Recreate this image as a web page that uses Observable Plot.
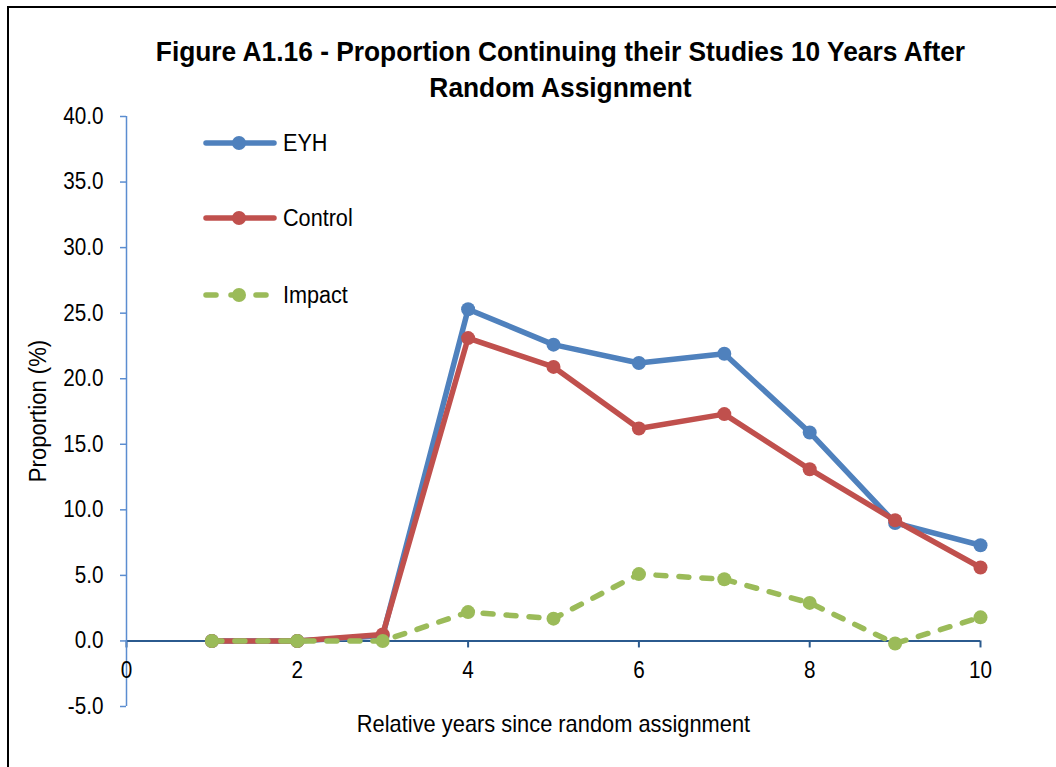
<!DOCTYPE html>
<html>
<head>
<meta charset="utf-8">
<script src="https://cdn.jsdelivr.net/npm/d3@7"></script>
<script src="https://cdn.jsdelivr.net/npm/@observablehq/plot@0.6"></script>
<style>
  html, body { margin: 0; padding: 0; background: #fff; }
  body { width: 1056px; height: 767px; overflow: hidden; }
  #wrap { position: relative; width: 1056px; height: 767px; font-family: "Liberation Sans", Arial, sans-serif; }
  #frame { position: absolute; left: 7px; top: 6px; right: -10px; bottom: -10px; border-left: 2px solid #000; border-top: 2px solid #000; pointer-events: none; }
  #title { height: 104px; box-sizing: border-box; padding-top: 34px; padding-left: 64px; text-align: center; font-weight: bold; font-size: 28px; line-height: 36px; color: #000; }
  #title span { display: inline-block; transform: scaleX(0.94); transform-origin: center; white-space: nowrap; }
  #legend { position: absolute; left: 203px; top: 0; }
  .item { position: absolute; left: 0; display: flex; align-items: center; white-space: nowrap; font-size: 23px; color: #000; }
  .item svg { display: block; margin-right: 6px; }
  .item span { display: inline-block; transform: scaleX(0.94); transform-origin: left center; }
  #ylabel { position: absolute; left: 38px; top: 411px; width: 0; height: 0; }
  #ylabel span { position: absolute; left: 0; top: 0; white-space: nowrap; font-size: 23px; line-height: 23px; color: #000; transform: translate(-50%, -50%) rotate(-90deg) scaleX(0.96); }
</style>
</head>
<body>
<div id="wrap">
  <div id="frame"></div>
  <div id="title"></div>
  <div id="chart"></div>
  <div id="ylabel"><span></span></div>
  <div id="legend"></div>
</div>
<script>
// ---- data ----
const years = [1, 2, 3, 4, 5, 6, 7, 8, 9, 10];
const eyh = [0.0, 0.0, 0.4, 25.3, 22.6, 21.2, 21.9, 15.9, 9.0, 7.3];
const control = [0.0, 0.0, 0.5, 23.1, 20.9, 16.2, 17.3, 13.1, 9.2, 5.6];
const impact = [0.0, 0.0, 0.0, 2.2, 1.7, 5.1, 4.7, 2.9, -0.2, 1.8];
const seriesNames = ["EYH", "Control", "Impact"];
const seriesColors = ["#4F81BD", "#C0504D", "#9BBB59"];
const xTicks = [0, 2, 4, 6, 8, 10];
const yTicks = [-5, 0, 5, 10, 15, 20, 25, 30, 35, 40];
const titleLines = ["Figure A1.16 - Proportion Continuing their Studies 10 Years After", "Random Assignment"];
const xLabel = "Relative years since random assignment";
const yLabel = "Proportion (%)";

document.getElementById("title").innerHTML = titleLines.map(t => `<span>${t}</span>`).join("<br>");
document.querySelector("#ylabel span").textContent = yLabel;

const seriesValues = [eyh, control, impact];
const rows = seriesNames.map((name, s) => years.map((x, i) => ({series: name, x, y: seriesValues[s][i]})));
const dashFor = name => name === "Impact" ? "10,13" : null;

const marks = [
  Plot.ruleY([0], {stroke: "#2B5A8E", strokeWidth: 2}),
  Plot.ruleX(xTicks, {x: d => d, y1: 0, y2: 0, insetBottom: -7, stroke: "#2B5A8E", strokeWidth: 2}),
  Plot.ruleX([0], {stroke: "#5B8DD0", strokeWidth: 1.5}),
  Plot.axisY({ticks: yTicks, tickFormat: d => d.toFixed(1), tickSize: 6, tickPadding: 17, fontSize: 23, stroke: "#5B8DD0", strokeWidth: 1.5, label: null}),
  Plot.text(xTicks, {x: d => d, y: 0, dy: 30, text: d => String(d), fontSize: 23, fill: "#000"}),
  Plot.text([xLabel], {frameAnchor: "bottom", dy: 25, fontSize: 23, fill: "#000"})
];
rows.forEach((data, s) => {
  marks.push(Plot.line(data, {x: "x", y: "y", stroke: seriesColors[s], strokeWidth: 5.5, strokeDasharray: dashFor(seriesNames[s]), strokeLinecap: "round", strokeLinejoin: "round"}));
  marks.push(Plot.dot(data, {x: "x", y: "y", r: 7, fill: seriesColors[s], stroke: "none"}));
});

const chart = Plot.plot({
  width: 1056,
  height: 663,
  marginLeft: 126,
  marginRight: 76,
  marginTop: 12,
  marginBottom: 61,
  style: {fontFamily: '"Liberation Sans", Arial, sans-serif', fontSize: "23px", color: "#000", background: "transparent"},
  x: {domain: [0, 10], axis: null},
  y: {domain: [-5, 40], axis: null},
  marks
});
// narrow the text glyphs to mimic a condensed face, keeping each anchor point fixed
chart.querySelectorAll("text").forEach(el => {
  const t = el.getAttribute("transform");
  const k = el.textContent === xLabel ? 0.95 : 0.9;
  if (t) el.setAttribute("transform", t + ` scale(${k},1)`);
});
document.getElementById("chart").appendChild(chart);

// ---- legend ----
const legend = document.getElementById("legend");
const legendY = [143, 218, 295];
seriesNames.forEach((name, s) => {
  const item = document.createElement("div");
  item.className = "item";
  item.style.top = (legendY[s] - 14) + "px";
  const dash = dashFor(name);
  item.innerHTML = `<svg width="74" height="28"><line x1="3" y1="14" x2="71" y2="14" stroke="${seriesColors[s]}" stroke-width="5.5" stroke-linecap="round" ${dash ? `stroke-dasharray="10,15"` : ""}/><circle cx="36" cy="14" r="7" fill="${seriesColors[s]}"/></svg><span>${name}</span>`;
  legend.appendChild(item);
});
</script>
</body>
</html>
